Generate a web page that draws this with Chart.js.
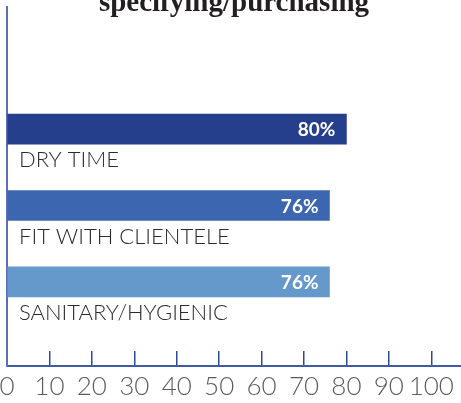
<!DOCTYPE html>
<html>
<head>
<meta charset="utf-8">
<script src="https://cdn.jsdelivr.net/npm/chart.js@4.4.1/dist/chart.umd.min.js"></script>
<style>
  html, body { margin: 0; padding: 0; background: #fff; }
  #wrap { width: 461px; height: 403px; position: relative; }
</style>
</head>
<body>
<div id="wrap"><canvas id="grafico"></canvas></div>
<script>
const tituloGrafico = 'specifying/purchasing';
const categorias = ['DRY TIME', 'FIT WITH CLIENTELE', 'SANITARY/HYGIENIC'];
const valores = [80, 76, 76];
const coresBarras = ['#263f8c', '#3c67b0', '#6699cb'];
const ticksX = [0, 10, 20, 30, 40, 50, 60, 70, 80, 90, 100];

// rotulos das categorias (embaixo da barra) e valores (dentro da barra)
const rotulosPlugin = {
  id: 'rotulos',
  afterDatasetsDraw(chart) {
    const ctx = chart.ctx;
    const meta = chart.getDatasetMeta(0);
    const area = chart.chartArea;
    ctx.save();
    meta.data.forEach((barra, i) => {
      ctx.fillStyle = '#ffffff';
      ctx.font = 'bold 19px Lato';
      ctx.textAlign = 'right';
      ctx.textBaseline = 'middle';
      ctx.fillText(valores[i] + '%', barra.x - 11, barra.y + 1);

      ctx.fillStyle = '#2b2b2b';
      ctx.font = '300 22px Lato';
      ctx.textAlign = 'left';
      ctx.fillText(categorias[i], area.left + 12, barra.y + 31);
    });
    ctx.restore();
  }
};

const ctx = document.getElementById('grafico').getContext('2d');
const chart = new Chart(ctx, {
  type: 'bar',
  data: {
    datasets: [{
      data: valores.map((v, i) => ({ x: v, y: i })),
      backgroundColor: coresBarras,
      barThickness: 30,
      borderWidth: 0
    }]
  },
  options: {
    indexAxis: 'y',
    responsive: true,
    maintainAspectRatio: false,
    animation: false,
    layout: { autoPadding: false, padding: { left: 7, right: 0, top: 0, bottom: 0 } },
    scales: {
      x: {
        type: 'linear',
        min: 0,
        max: 107,
        afterBuildTicks: (scale) => {
          scale.ticks = ticksX.map(v => ({ value: v }));
        },
        afterFit: (scale) => {
          scale.height = 37;
          scale.paddingLeft = 0;
          scale.paddingRight = 0;
        },
        ticks: {
          color: '#5c5c5c',
          font: { family: 'Lato', size: 26, weight: '300' },
          padding: 20,
          maxRotation: 0,
          autoSkip: false
        },
        grid: {
          drawOnChartArea: false,
          drawTicks: true,
          tickLength: -15,
          color: (c) => c.index === 0 ? 'rgba(0,0,0,0)' : '#2e4a94',
          lineWidth: 1.5
        },
        border: { color: '#3f5aa6', width: 2 }
      },
      y: {
        type: 'linear',
        reverse: true,
        offset: false,
        min: -1.6,
        max: 3.1,
        afterFit: (scale) => {
          scale.width = 0;
          scale.paddingTop = 0;
          scale.paddingBottom = 0;
        },
        ticks: { display: false },
        grid: { display: false, offset: false },
        border: { display: true, color: '#5b6fb5', width: 2 }
      }
    },
    plugins: {
      legend: { display: false },
      tooltip: { enabled: false },
      title: {
        display: true,
        text: tituloGrafico,
        color: '#231f20',
        font: { family: 'Liberation Serif', size: 29, weight: 'bold' },
        padding: { top: -14, bottom: -14 }
      }
    }
  },
  plugins: [rotulosPlugin]
});
</script>
</body>
</html>
